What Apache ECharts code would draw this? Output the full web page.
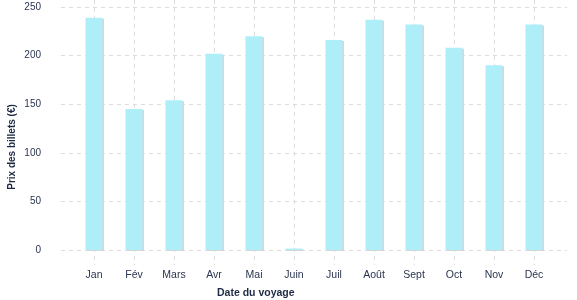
<!DOCTYPE html>
<html><head><meta charset="utf-8">
<script src="https://cdn.jsdelivr.net/npm/echarts@6/dist/echarts.min.js"></script>
<style>html,body{margin:0;padding:0;background:#fff}#c{width:577px;height:300px}</style>
</head><body><div id="c"></div>
<script>
const months = ['Jan','Fév','Mars','Avr','Mai','Juin','Juil','Août','Sept','Oct','Nov','Déc'];
const prices = [239, 145, 154, 202, 220, 1.5, 216, 237, 232, 208, 190, 232];
const yMin = 0, yMax = 250, yStep = 50;
const xTitle = 'Date du voyage';
const yTitle = 'Prix des billets (€)';

const txt = '#2b3550';
const font = 'Liberation Sans';
const grid = '#dddddd';
const chart = echarts.init(document.getElementById('c'), null, {renderer:'canvas'});
chart.setOption({
  animation:false,
  grid:[
    {left:61, right:10, top:7, bottom:50},
    {left:74, right:23, top:7, bottom:50},
    {left:94, right:43, top:0, bottom:35}
  ],
  xAxis:[
    {gridIndex:0, type:'value', show:false, min:0, max:1},
    {gridIndex:1, type:'category', data:months, show:false},
    {gridIndex:2, type:'category', data:months, boundaryGap:false,
     axisLine:{show:false}, axisTick:{show:false},
     axisLabel:{color:txt, fontFamily:font, fontSize:10.5, margin:5, interval:0},
     splitLine:{show:true, interval:0, lineStyle:{color:grid, type:[4,4], width:1}}}
  ],
  yAxis:[
    {gridIndex:0, type:'value', min:yMin, max:yMax, interval:yStep,
     axisLine:{show:false}, axisTick:{show:false},
     axisLabel:{color:txt, fontFamily:font, fontSize:10, margin:20},
     splitLine:{lineStyle:{color:grid, type:[4,4], width:1}}},
    {gridIndex:1, type:'value', min:yMin, max:yMax, show:false, splitLine:{show:false}},
    {gridIndex:2, type:'value', show:false, splitLine:{show:false}}
  ],
  series:[{
    type:'bar', xAxisIndex:1, yAxisIndex:1, data:prices, barWidth:17,
    itemStyle:{color:'#aeeef8', shadowColor:'#d6d6d6', shadowBlur:0, shadowOffsetX:1.5, shadowOffsetY:1}
  }],
  graphic:[
    {type:'text', left:217, top:288, style:{text:xTitle, fill:'#1e2a44', font:'bold 10.5px "Liberation Sans"'}},
    {type:'text', x:12, y:147, rotation:Math.PI/2, style:{text:yTitle, fill:'#1e2a44', font:'bold 10px "Liberation Sans"', align:'center', verticalAlign:'middle'}}
  ]
});
</script></body></html>
